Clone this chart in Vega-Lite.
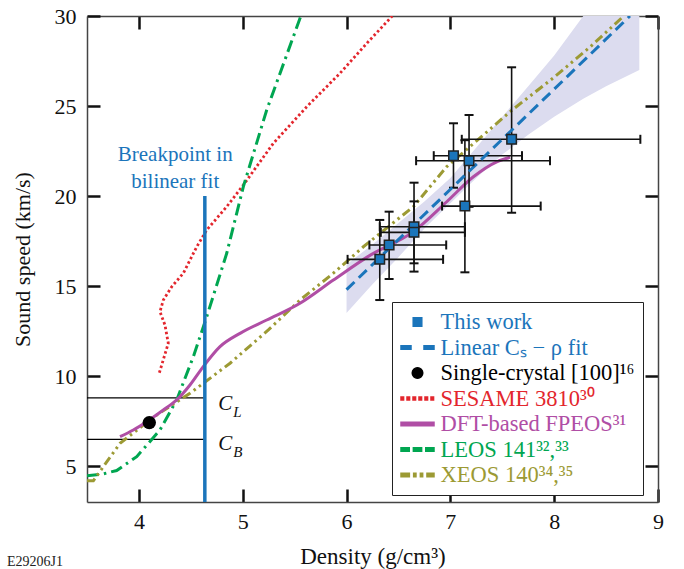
{
  "$schema": "https://vega.github.io/schema/vega-lite/v6.json",
  "width": 571,
  "height": 486,
  "autosize": {"type": "none"},
  "padding": {"left": 87, "top": 16, "right": 26, "bottom": 67},
  "background": "white",
  "title": {"text": "E29206J1", "orient": "bottom", "anchor": "start", "frame": "bounds", "font": "Liberation Serif", "fontSize": 14, "fontWeight": "normal", "color": "#222", "offset": -13, "dx": -4},
  "config": {
    "view": {"stroke": null},
    "font": "Liberation Serif",
    "axis": {
      "grid": false,
      "labelFont": "Liberation Serif",
      "labelFontSize": 22,
      "labelColor": "#111",
      "titleFont": "Liberation Serif",
      "titleFontSize": 22,
      "titleFontWeight": "normal",
      "titleColor": "#111",
      "domainColor": "#444",
      "domainWidth": 1.5,
      "tickColor": "#111",
      "tickWidth": 2.5,
      "tickSize": -13,
      "labelPadding": 22,
      "format": "d"
    }
  },
  "datasets": {
    "band": [
      {"x": 6.0, "lo": 13.5, "hi": 16.2},
      {"x": 6.25, "lo": 15.1, "hi": 17.3},
      {"x": 6.5, "lo": 16.6, "hi": 18.5},
      {"x": 6.75, "lo": 18.2, "hi": 19.7},
      {"x": 7.0, "lo": 19.6, "hi": 21.0},
      {"x": 7.25, "lo": 21.0, "hi": 22.7},
      {"x": 7.5, "lo": 22.3, "hi": 24.4},
      {"x": 7.75, "lo": 23.4, "hi": 26.1},
      {"x": 8.0, "lo": 24.4, "hi": 27.8},
      {"x": 8.28, "lo": 25.4, "hi": 30.0},
      {"x": 8.5, "lo": 26.1, "hi": 30.0},
      {"x": 8.82, "lo": 27.0, "hi": 30.0}
    ],
    "clines": [
      {"x1": 3.5, "x2": 4.635, "y": 8.78},
      {"x1": 3.5, "x2": 4.635, "y": 6.48}
    ],
    "breakpoint": [{"x": 4.635, "y1": 3, "y2": 20}],
    "fit": [{"i": 0, "x": 6.0, "y": 14.8}, {"i": 1, "x": 8.73, "y": 30.0}],
    "sesame": [
      {"i": 0, "x": 4.197, "y": 10.18},
      {"i": 1, "x": 4.283, "y": 11.82},
      {"i": 2, "x": 4.251, "y": 12.83},
      {"i": 3, "x": 4.203, "y": 13.57},
      {"i": 4, "x": 4.235, "y": 14.22},
      {"i": 5, "x": 4.316, "y": 14.96},
      {"i": 6, "x": 4.428, "y": 15.71},
      {"i": 7, "x": 4.557, "y": 17.18},
      {"i": 8, "x": 4.653, "y": 18.11},
      {"i": 9, "x": 4.846, "y": 19.41},
      {"i": 10, "x": 5.006, "y": 20.61},
      {"i": 11, "x": 5.295, "y": 22.93},
      {"i": 12, "x": 5.617, "y": 24.96},
      {"i": 13, "x": 5.937, "y": 26.82},
      {"i": 14, "x": 6.195, "y": 28.48},
      {"i": 15, "x": 6.44, "y": 30.0}
    ],
    "leos": [
      {"i": 0, "x": 3.5, "y": 4.46},
      {"i": 1, "x": 3.657, "y": 4.56},
      {"i": 2, "x": 3.786, "y": 4.75},
      {"i": 3, "x": 3.979, "y": 5.52},
      {"i": 4, "x": 4.203, "y": 7.0},
      {"i": 5, "x": 4.364, "y": 8.67},
      {"i": 6, "x": 4.524, "y": 11.07},
      {"i": 7, "x": 4.653, "y": 13.29},
      {"i": 8, "x": 4.846, "y": 16.82},
      {"i": 9, "x": 5.006, "y": 20.52},
      {"i": 10, "x": 5.231, "y": 24.78},
      {"i": 11, "x": 5.56, "y": 30.0}
    ],
    "fpeos": [
      {"i": 0, "x": 3.818, "y": 6.63},
      {"i": 1, "x": 3.946, "y": 7.0},
      {"i": 2, "x": 4.075, "y": 7.46},
      {"i": 3, "x": 4.235, "y": 8.11},
      {"i": 4, "x": 4.364, "y": 8.67},
      {"i": 5, "x": 4.492, "y": 9.5},
      {"i": 6, "x": 4.62, "y": 10.52},
      {"i": 7, "x": 4.781, "y": 11.63},
      {"i": 8, "x": 4.974, "y": 12.37},
      {"i": 9, "x": 5.231, "y": 13.11},
      {"i": 10, "x": 5.552, "y": 14.04},
      {"i": 11, "x": 5.873, "y": 15.33},
      {"i": 12, "x": 6.225, "y": 16.7},
      {"i": 13, "x": 6.644, "y": 18.02},
      {"i": 14, "x": 6.965, "y": 19.68},
      {"i": 15, "x": 7.222, "y": 21.07},
      {"i": 16, "x": 7.447, "y": 21.9},
      {"i": 17, "x": 7.575, "y": 22.15}
    ],
    "xeos": [
      {"i": 0, "x": 3.5, "y": 4.18},
      {"i": 1, "x": 3.561, "y": 4.18},
      {"i": 2, "x": 3.818, "y": 6.26},
      {"i": 3, "x": 4.139, "y": 7.71},
      {"i": 4, "x": 4.492, "y": 9.04},
      {"i": 5, "x": 4.878, "y": 10.71},
      {"i": 6, "x": 5.247, "y": 12.56},
      {"i": 7, "x": 5.552, "y": 14.22},
      {"i": 8, "x": 5.873, "y": 15.71},
      {"i": 9, "x": 6.162, "y": 17.18},
      {"i": 10, "x": 6.644, "y": 19.41},
      {"i": 11, "x": 6.965, "y": 21.63},
      {"i": 12, "x": 7.3, "y": 23.3},
      {"i": 13, "x": 7.6, "y": 24.8},
      {"i": 14, "x": 8.0, "y": 26.6},
      {"i": 15, "x": 8.35, "y": 28.3},
      {"i": 16, "x": 8.67, "y": 30.0}
    ],
    "points": [
      {"x": 6.32, "y": 16.48, "xlo": 6.01, "xhi": 6.93, "ylo": 14.22, "yhi": 18.67},
      {"x": 6.41, "y": 17.28, "xlo": 6.22, "xhi": 6.96, "ylo": 15.39, "yhi": 19.13},
      {"x": 6.65, "y": 18.29, "xlo": 6.32, "xhi": 7.14, "ylo": 15.8, "yhi": 20.74},
      {"x": 6.65, "y": 17.98, "xlo": 6.33, "xhi": 7.14, "ylo": 16.26, "yhi": 19.7},
      {"x": 7.14, "y": 19.44, "xlo": 6.92, "xhi": 7.87, "ylo": 15.76, "yhi": 23.1},
      {"x": 7.18, "y": 21.96, "xlo": 6.67, "xhi": 7.96, "ylo": 19.4, "yhi": 24.5},
      {"x": 7.03, "y": 22.24, "xlo": 6.84, "xhi": 7.69, "ylo": 20.46, "yhi": 24.04},
      {"x": 7.59, "y": 23.15, "xlo": 7.11, "xhi": 8.83, "ylo": 19.07, "yhi": 27.15}
    ],
    "crystal": [{"x": 4.1, "y": 7.41}],
    "note": [
      {"x": 4.35, "y": 22.28, "t": "Breakpoint in"},
      {"x": 4.35, "y": 20.79, "t": "bilinear fit"}
    ],
    "clabels": [
      {"x": 4.765, "y": 8.46, "main": "C", "sub": "L"},
      {"x": 4.765, "y": 6.22, "main": "C", "sub": "B"}
    ],
    "frame": [{"x": 3.5, "y": 3}]
  },
  "layer": [
    {
      "layer": [
        {
          "data": {"name": "band"},
          "mark": {"type": "area", "color": "#dcdcef", "opacity": 1, "clip": true},
          "encoding": {
            "x": {"field": "x", "type": "quantitative", "scale": {"domain": [3.5, 9], "nice": false, "zero": false},
                  "axis": {"title": "Density (g/cm³)", "values": [4, 5, 6, 7, 8, 9], "labelFlush": false, "titlePadding": 13, "titleFont": "Liberation Serif", "titleFontSize": 23, "labelFont": "Liberation Serif"}},
            "y": {"field": "lo", "type": "quantitative", "scale": {"domain": [3, 30], "nice": false, "zero": false},
                  "axis": {"title": "Sound speed (km/s)", "values": [5, 10, 15, 20, 25, 30], "titlePadding": 20, "titleFont": "Liberation Serif", "titleFontSize": 22, "labelFont": "Liberation Serif", "labelPadding": 24}},
            "y2": {"field": "hi"}
          }
        },
        {
          "data": {"name": "clines"},
          "mark": {"type": "rule", "color": "#000", "strokeWidth": 1.3},
          "encoding": {
            "x": {"field": "x1", "type": "quantitative"},
            "x2": {"field": "x2"},
            "y": {"field": "y", "type": "quantitative"}
          }
        },
        {
          "data": {"name": "sesame"},
          "mark": {"type": "line", "strokeWidth": 2.8, "strokeDash": [2.5, 2.5], "clip": true},
          "encoding": {
            "x": {"field": "x", "type": "quantitative"},
            "y": {"field": "y", "type": "quantitative"},
            "order": {"field": "i", "type": "quantitative"},
            "color": {
              "datum": "SESAME 3810³⁰",
              "type": "nominal",
              "scale": {
                "domain": ["This work", "Linear Cₛ − ρ fit", "Single-crystal [100]¹⁶", "SESAME 3810³⁰", "DFT-based FPEOS³¹", "LEOS 141³²,³³", "XEOS 140³⁴,³⁵"],
                "range": ["#1b75bb", "#1b75bb", "#000000", "#e3262d", "#b04ea5", "#00a651", "#9c9a34"]
              },
              "legend": {
                "orient": "none",
                "legendX": 305,
                "legendY": 286,
                "title": null,
                "strokeColor": "#222",
                "fillColor": "white",
                "padding": 8,
                "labelFont": "Liberation Serif",
                "labelFontSize": 22.5,
                "labelLimit": 400,
                "labelOffset": 11,
                "symbolType": "stroke",
                "symbolSize": 484,
                "symbolStrokeWidth": 1.5,
                "symbolOffset": 5.5,
                "rowPadding": 1.5,
                "encode": {
                  "symbols": {
                    "update": {
                      "shape": {"signal": "['M-0.39,-0.39H0.39V0.39H-0.39Z', 'M-1.5,-0.16H-0.59V0.16H-1.5Z M0.59,-0.16H1.5V0.16H0.59Z', 'M-0.48,0A0.48,0.48 0 1,0 0.48,0A0.48,0.48 0 1,0 -0.48,0Z', 'M-1.5,-0.13H-1.264V0.13H-1.5Z M-0.955,-0.13H-0.719V0.13H-0.955Z M-0.41,-0.13H-0.174V0.13H-0.41Z M0.135,-0.13H0.371V0.13H0.135Z M0.68,-0.13H0.916V0.13H0.68Z M1.225,-0.13H1.461V0.13H1.225Z', 'M-1.5,-0.16H1.5V0.16H-1.5Z', 'M-1.5,-0.16H-0.75V0.16H-1.5Z M-0.375,-0.16H0.375V0.16H-0.375Z M0.75,-0.16H1.5V0.16H0.75Z', 'M-1.5,-0.16H-0.74V0.16H-1.5Z M-0.35,-0.16H-0.14V0.16H-0.35Z M0.26,-0.16H0.47V0.16H0.26Z M0.86,-0.16H1.5V0.16H0.86Z'][datum.index]"},
                      "fill": {"signal": "['#1b75bb','#1b75bb','#000000','#e3262d','#b04ea5','#00a651','#9c9a34'][datum.index]"},
                      "stroke": {"signal": "datum.index === 0 ? '#222222' : 'transparent'"},
                      "strokeDash": {"value": []},
                      "opacity": {"value": 1}
                    }
                  },
                  "labels": {
                    "update": {
                      "fill": {"signal": "['#1b75bb','#1b75bb','#000000','#e3262d','#b04ea5','#00a651','#9c9a34'][datum.index]"}
                    }
                  }
                }
              }
            }
          }
        },
        {
          "data": {"name": "leos"},
          "mark": {"type": "line", "strokeWidth": 3, "strokeDash": [12, 5, 2.5, 5], "clip": true},
          "encoding": {
            "x": {"field": "x", "type": "quantitative"},
            "y": {"field": "y", "type": "quantitative"},
            "order": {"field": "i", "type": "quantitative"},
            "color": {"datum": "LEOS 141³²,³³", "type": "nominal"}
          }
        },
        {
          "data": {"name": "xeos"},
          "mark": {"type": "line", "strokeWidth": 3, "strokeDash": [9, 4, 2.5, 4, 2.5, 4], "clip": true},
          "encoding": {
            "x": {"field": "x", "type": "quantitative"},
            "y": {"field": "y", "type": "quantitative"},
            "order": {"field": "i", "type": "quantitative"},
            "color": {"datum": "XEOS 140³⁴,³⁵", "type": "nominal"}
          }
        },
        {
          "data": {"name": "fpeos"},
          "mark": {"type": "line", "strokeWidth": 3, "clip": true, "interpolate": "monotone"},
          "encoding": {
            "x": {"field": "x", "type": "quantitative"},
            "y": {"field": "y", "type": "quantitative"},
            "order": {"field": "i", "type": "quantitative"},
            "color": {"datum": "DFT-based FPEOS³¹", "type": "nominal"}
          }
        },
        {
          "data": {"name": "breakpoint"},
          "mark": {"type": "rule", "color": "#1b75bb", "strokeWidth": 3.5},
          "encoding": {
            "x": {"field": "x", "type": "quantitative"},
            "y": {"field": "y1", "type": "quantitative"},
            "y2": {"field": "y2"}
          }
        },
        {
          "data": {"name": "points"},
          "mark": {"type": "rule", "color": "#111", "strokeWidth": 1.6},
          "encoding": {
            "x": {"field": "x", "type": "quantitative"},
            "y": {"field": "ylo", "type": "quantitative"},
            "y2": {"field": "yhi"}
          }
        },
        {
          "data": {"name": "points"},
          "mark": {"type": "rule", "color": "#111", "strokeWidth": 1.6},
          "encoding": {
            "x": {"field": "xlo", "type": "quantitative"},
            "x2": {"field": "xhi"},
            "y": {"field": "y", "type": "quantitative"}
          }
        },
        {
          "data": {"name": "points"},
          "transform": [{"fold": ["ylo", "yhi"], "as": ["end", "yend"]}],
          "mark": {"type": "tick", "orient": "horizontal", "color": "#111", "size": 9, "thickness": 2, "opacity": 1},
          "encoding": {
            "x": {"field": "x", "type": "quantitative"},
            "y": {"field": "yend", "type": "quantitative"}
          }
        },
        {
          "data": {"name": "points"},
          "transform": [{"fold": ["xlo", "xhi"], "as": ["end", "xend"]}],
          "mark": {"type": "tick", "orient": "vertical", "color": "#111", "size": 9, "thickness": 2, "opacity": 1},
          "encoding": {
            "x": {"field": "xend", "type": "quantitative"},
            "y": {"field": "y", "type": "quantitative"}
          }
        },
        {
          "data": {"name": "fit"},
          "mark": {"type": "line", "strokeWidth": 3, "strokeDash": [11, 6], "clip": true},
          "encoding": {
            "x": {"field": "x", "type": "quantitative"},
            "y": {"field": "y", "type": "quantitative"},
            "order": {"field": "i", "type": "quantitative"},
            "color": {"datum": "Linear Cₛ − ρ fit", "type": "nominal"}
          }
        },
        {
          "data": {"name": "points"},
          "mark": {"type": "point", "shape": "square", "filled": true, "size": 90, "fill": "#1b75bb", "stroke": "#222", "strokeWidth": 1.5, "opacity": 1},
          "encoding": {
            "x": {"field": "x", "type": "quantitative"},
            "y": {"field": "y", "type": "quantitative"}
          }
        },
        {
          "data": {"name": "crystal"},
          "mark": {"type": "point", "shape": "circle", "filled": true, "size": 180, "color": "#000", "opacity": 1},
          "encoding": {
            "x": {"field": "x", "type": "quantitative"},
            "y": {"field": "y", "type": "quantitative"}
          }
        },
        {
          "data": {"name": "note"},
          "mark": {"type": "text", "font": "Liberation Serif", "fontSize": 21, "color": "#1b75bb", "align": "center", "baseline": "middle"},
          "encoding": {
            "x": {"field": "x", "type": "quantitative"},
            "y": {"field": "y", "type": "quantitative"},
            "text": {"field": "t"}
          }
        },
        {
          "data": {"name": "clabels"},
          "mark": {"type": "text", "font": "Liberation Serif", "fontSize": 21, "fontStyle": "italic", "color": "#111", "align": "left", "baseline": "middle"},
          "encoding": {
            "x": {"field": "x", "type": "quantitative"},
            "y": {"field": "y", "type": "quantitative"},
            "text": {"field": "main"}
          }
        },
        {
          "data": {"name": "clabels"},
          "mark": {"type": "text", "font": "Liberation Serif", "fontSize": 15, "fontStyle": "italic", "color": "#111", "align": "left", "baseline": "middle", "dx": 15, "dy": 8},
          "encoding": {
            "x": {"field": "x", "type": "quantitative"},
            "y": {"field": "y", "type": "quantitative"},
            "text": {"field": "sub"}
          }
        }
      ]
    },
    {
      "data": {"name": "frame"},
      "mark": {"type": "point", "opacity": 0},
      "encoding": {
        "x": {"field": "x", "type": "quantitative", "axis": {"orient": "top", "labels": false, "title": null, "values": [4, 5, 6, 7, 8, 9]}},
        "y": {"field": "y", "type": "quantitative", "axis": {"orient": "right", "labels": false, "title": null, "values": [5, 10, 15, 20, 25, 30]}}
      }
    }
  ],
  "resolve": {"axis": {"x": "independent", "y": "independent"}}
}
